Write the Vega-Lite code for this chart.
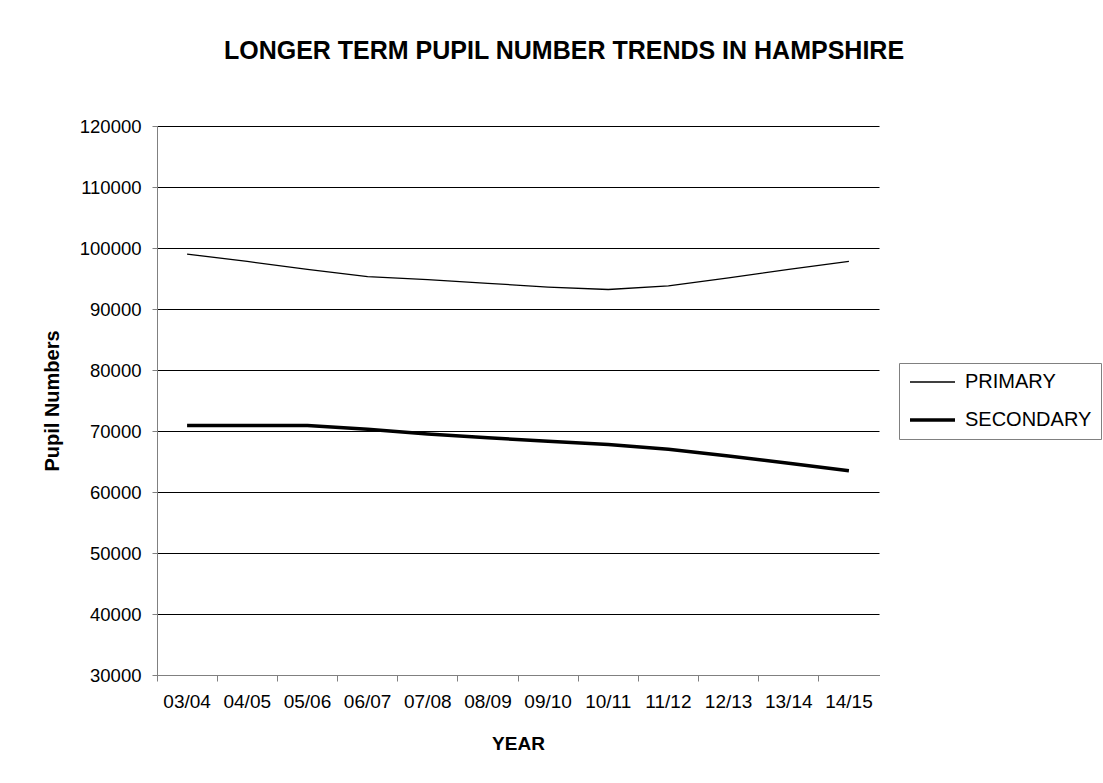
{
  "$schema": "https://vega.github.io/schema/vega-lite/v6.json",
  "width": 722,
  "height": 549,
  "autosize": {"type": "none"},
  "padding": {"left": 157, "top": 126, "right": 224, "bottom": 108},
  "background": "white",
  "config": {
    "font": "Liberation Sans",
    "view": {"stroke": null}
  },
  "title": {
    "text": "LONGER TERM PUPIL NUMBER TRENDS IN HAMPSHIRE",
    "font": "Liberation Sans",
    "fontSize": 25,
    "fontWeight": "bold",
    "color": "black",
    "anchor": "middle",
    "dx": 46,
    "offset": 53
  },
  "data": {
    "values": [
      {"year": "03/04", "phase": "PRIMARY", "pupils": 99000},
      {"year": "04/05", "phase": "PRIMARY", "pupils": 97800},
      {"year": "05/06", "phase": "PRIMARY", "pupils": 96500},
      {"year": "06/07", "phase": "PRIMARY", "pupils": 95300},
      {"year": "07/08", "phase": "PRIMARY", "pupils": 94800},
      {"year": "08/09", "phase": "PRIMARY", "pupils": 94200},
      {"year": "09/10", "phase": "PRIMARY", "pupils": 93600},
      {"year": "10/11", "phase": "PRIMARY", "pupils": 93200},
      {"year": "11/12", "phase": "PRIMARY", "pupils": 93800},
      {"year": "12/13", "phase": "PRIMARY", "pupils": 95100},
      {"year": "13/14", "phase": "PRIMARY", "pupils": 96500},
      {"year": "14/15", "phase": "PRIMARY", "pupils": 97800},
      {"year": "03/04", "phase": "SECONDARY", "pupils": 70900},
      {"year": "04/05", "phase": "SECONDARY", "pupils": 70900},
      {"year": "05/06", "phase": "SECONDARY", "pupils": 70900},
      {"year": "06/07", "phase": "SECONDARY", "pupils": 70300},
      {"year": "07/08", "phase": "SECONDARY", "pupils": 69500},
      {"year": "08/09", "phase": "SECONDARY", "pupils": 68900},
      {"year": "09/10", "phase": "SECONDARY", "pupils": 68300},
      {"year": "10/11", "phase": "SECONDARY", "pupils": 67800},
      {"year": "11/12", "phase": "SECONDARY", "pupils": 67000},
      {"year": "12/13", "phase": "SECONDARY", "pupils": 65900},
      {"year": "13/14", "phase": "SECONDARY", "pupils": 64700},
      {"year": "14/15", "phase": "SECONDARY", "pupils": 63500}
    ]
  },
  "mark": {"type": "line", "color": "black", "strokeCap": "butt", "strokeJoin": "round"},
  "encoding": {
    "x": {
      "field": "year",
      "type": "ordinal",
      "sort": null,
      "bandPosition": 0.5,
      "scale": {"type": "band", "paddingInner": 0, "paddingOuter": 0},
      "axis": {
        "title": "YEAR",
        "titleFont": "Liberation Sans",
        "titleFontSize": 19,
        "titleFontWeight": "bold",
        "titleColor": "black",
        "titlePadding": 23,
        "labelFont": "Liberation Sans",
        "labelFontSize": 19,
        "labelColor": "black",
        "labelAngle": 0,
        "labelPadding": 11,
        "bandPosition": 0,
        "tickSize": 6,
        "tickColor": "#808080",
        "domainColor": "#808080",
        "grid": false
      }
    },
    "y": {
      "field": "pupils",
      "type": "quantitative",
      "scale": {"domain": [30000, 120000], "nice": false, "zero": false},
      "axis": {
        "title": "Pupil Numbers",
        "titleFont": "Liberation Sans",
        "titleFontSize": 20,
        "titleFontWeight": "bold",
        "titleColor": "black",
        "titlePadding": 17,
        "labelFont": "Liberation Sans",
        "labelFontSize": 18.5,
        "labelColor": "black",
        "labelPadding": 11,
        "values": [30000, 40000, 50000, 60000, 70000, 80000, 90000, 100000, 110000, 120000],
        "format": "d",
        "tickSize": 5,
        "tickColor": "#808080",
        "domainColor": "#808080",
        "grid": true,
        "gridColor": "black",
        "gridOpacity": 1,
        "gridWidth": 1
      }
    },
    "strokeWidth": {
      "field": "phase",
      "type": "ordinal",
      "scale": {"domain": ["PRIMARY", "SECONDARY"], "range": [1.3, 3.5]},
      "legend": {
        "title": null,
        "orient": "none",
        "legendX": 742,
        "legendY": 237,
        "direction": "vertical",
        "symbolType": "stroke",
        "symbolSize": 2025,
        "symbolStrokeColor": "black",
        "clipHeight": 20,
        "labelFont": "Liberation Sans",
        "labelFontSize": 20,
        "labelColor": "black",
        "labelOffset": 8,
        "rowPadding": 18,
        "padding": 9,
        "strokeColor": "#808080",
        "fillColor": "white"
      }
    }
  }
}
